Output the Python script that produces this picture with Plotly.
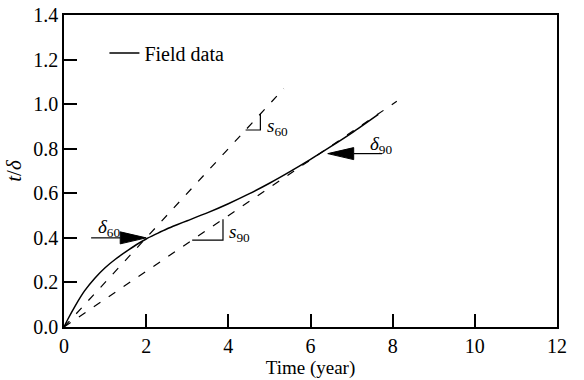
import plotly.graph_objects as go

# ---- data ----
time_years = [0, 0.1, 0.27, 0.5, 0.75, 1.0, 1.25, 1.5, 1.75, 2.0, 2.25, 2.5, 2.75, 3.0, 3.5, 4.0, 4.5, 5.0, 5.5, 6.0, 6.5, 7.0, 7.65]
t_over_delta = [0, 0.037, 0.094, 0.162, 0.219, 0.266, 0.304, 0.337, 0.368, 0.395, 0.418, 0.44, 0.459, 0.477, 0.513, 0.553, 0.597, 0.645, 0.697, 0.752, 0.81, 0.87, 0.954]

s60_slope = 0.2
s60_x = [0, 5.35]
s90_slope = 0.125
s90_x = [0, 8.1]

s60_tri_x = [4.42, 4.78]
s90_tri_x = [3.12, 3.87]

delta60_pt = (2.0, 0.40)     # arrow tip
delta60_tail_x = 0.66
delta90_pt = (6.42, 0.778)
delta90_tail_x = 7.74

x_ticks = [0, 2, 4, 6, 8, 10, 12]
y_ticks = [0.0, 0.2, 0.4, 0.6, 0.8, 1.0, 1.2, 1.4]

# ---- layout constants ----
W, H = 584, 380
ML, MR, MT, MB = 63.5, 26.5, 15, 53
XR = (0, 12)
YR = (0, 1.4)
px_x = (W - ML - MR) / (XR[1] - XR[0])
px_y = (H - MT - MB) / (YR[1] - YR[0])

FONT = "Liberation Serif, Times New Roman, serif"
fig = go.Figure()

fig.add_trace(go.Scatter(x=time_years, y=t_over_delta, mode="lines", name="Field data",
                         line=dict(color="black", width=1.5, shape="spline", smoothing=0.8)))

for xs, k in [(s60_x, s60_slope), (s90_x, s90_slope)]:
    fig.add_trace(go.Scatter(x=xs, y=[k * v for v in xs], mode="lines", showlegend=False,
                             line=dict(color="black", width=1.2, dash="8px,10px")))

# slope triangles
for (x0, x1), k in [(s60_tri_x, s60_slope), (s90_tri_x, s90_slope)]:
    fig.add_trace(go.Scatter(x=[x0, x1, x1], y=[k * x0, k * x0, k * x1], mode="lines",
                             showlegend=False, line=dict(color="black", width=1.2)))

# arrows: line + filled triangle head
def arrow(tip, tail_x):
    tx, ty = tip
    direction = 1 if tail_x < tx else -1
    head_len = 26 / px_x
    half_w = 6 / px_y
    bx = tx - direction * head_len
    fig.add_trace(go.Scatter(x=[tail_x, bx], y=[ty, ty], mode="lines", showlegend=False,
                             line=dict(color="black", width=1.2)))
    fig.add_trace(go.Scatter(x=[bx, tx, bx, bx], y=[ty + half_w, ty, ty - half_w, ty + half_w],
                             mode="lines", fill="toself", fillcolor="black", showlegend=False,
                             line=dict(color="black", width=1)))

arrow(delta60_pt, delta60_tail_x)
arrow(delta90_pt, delta90_tail_x)

ann_font = dict(family=FONT, size=19, color="black")
fig.add_annotation(x=1.1, y=0.445, text="<i>δ</i><sub>60</sub>", showarrow=False, font=ann_font)
fig.add_annotation(x=7.72, y=0.815, text="<i>δ</i><sub>90</sub>", showarrow=False, font=ann_font)
fig.add_annotation(x=4.9, y=0.897, text="<i>s</i><sub>60</sub>", showarrow=False, font=ann_font,
                   xanchor="left")
fig.add_annotation(x=3.97, y=0.42, text="<i>s</i><sub>90</sub>", showarrow=False, font=ann_font,
                   xanchor="left")

axis_common = dict(showline=True, linecolor="black", linewidth=1.5, mirror=True,
                   ticks="inside", ticklen=13, tickwidth=1.5, tickcolor="black",
                   showgrid=False, zeroline=False, automargin=False,
                   tickfont=dict(family=FONT, size=20, color="black"))

fig.update_xaxes(range=list(XR), tickvals=x_ticks, ticktext=[str(v) for v in x_ticks],
                 title=dict(text="Time (year)", font=dict(family=FONT, size=19, color="black"), standoff=4),
                 **axis_common)
fig.update_yaxes(range=list(YR), tickvals=y_ticks, ticktext=[f"{v:.1f}" for v in y_ticks],
                 title=dict(text="<i>t</i>/<i>δ</i>", font=dict(family=FONT, size=21, color="black"), standoff=6),
                 **axis_common)

fig.update_layout(width=W, height=H, margin=dict(l=ML, r=MR, t=MT, b=MB),
                  font=dict(family=FONT, size=20, color="black"),
                  plot_bgcolor="white", paper_bgcolor="white",
                  showlegend=True,
                  legend=dict(x=0.082, y=0.878, xanchor="left", yanchor="middle",
                              bgcolor="rgba(0,0,0,0)", font=dict(family=FONT, size=20, color="black")))

fig.write_html("out.html")
